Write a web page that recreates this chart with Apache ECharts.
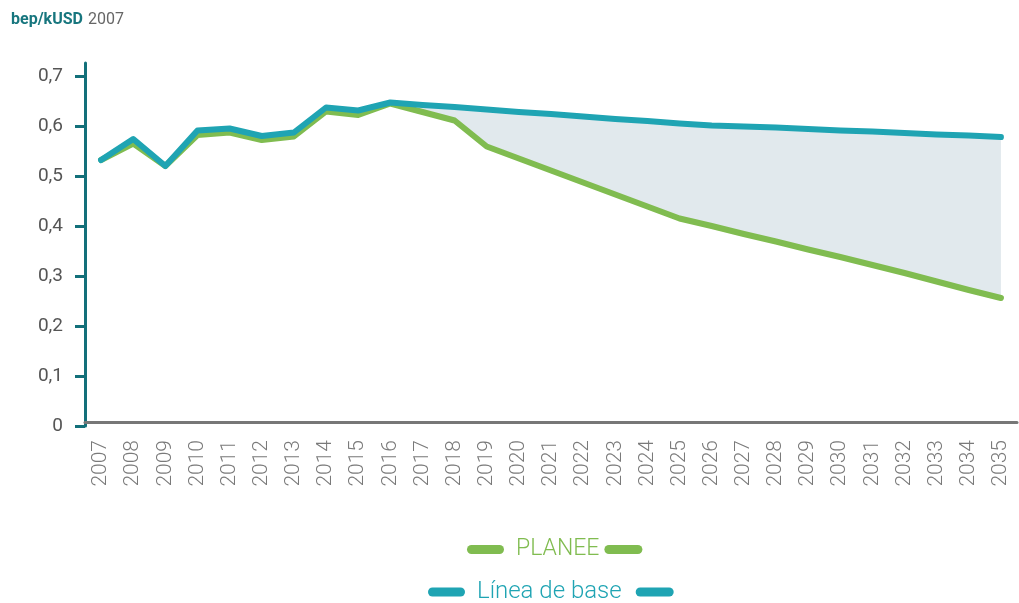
<!DOCTYPE html>
<html>
<head>
<meta charset="utf-8">
<script src="https://cdn.jsdelivr.net/npm/echarts@6/dist/echarts.min.js"></script>
<style>
    html, body { margin: 0; padding: 0; background: #fff; }
    #main { width: 1019px; height: 603px; }
</style>
</head>
<body>
<div id="main"></div>
<script>
var years = ['2007', '2008', '2009', '2010', '2011', '2012', '2013', '2014', '2015', '2016',
    '2017', '2018', '2019', '2020', '2021', '2022', '2023', '2024', '2025', '2026',
    '2027', '2028', '2029', '2030', '2031', '2032', '2033', '2034', '2035'];
// PLANEE
var planee = [0.532, 0.565, 0.520, 0.582, 0.587, 0.572, 0.579, 0.629, 0.622, 0.645,
    0.628, 0.611, 0.559, 0.535, 0.511, 0.487, 0.463, 0.439, 0.415, 0.400,
    0.384, 0.369, 0.353, 0.338, 0.322, 0.306, 0.289, 0.272, 0.256];
// Linea de base
var baseLine = [0.532, 0.574, 0.520, 0.591, 0.595, 0.580, 0.587, 0.637, 0.631, 0.647,
    0.642, 0.638, 0.633, 0.628, 0.624, 0.619, 0.614, 0.610, 0.605, 0.601,
    0.599, 0.597, 0.594, 0.591, 0.589, 0.586, 0.583, 0.581, 0.578];
var yTicks = [0, 0.1, 0.2, 0.3, 0.4, 0.5, 0.6, 0.7];
var bandStart = 9; // la zona sombreada empieza en 2016

var green = '#80bc50';
var teal = '#1fa4b3';

// zona entre las dos curvas (apilada)
var bandLow = [];
var bandDiff = [];
for (var i = 0; i < years.length; i++) {
    if (i < bandStart) {
        bandLow.push('-');
        bandDiff.push('-');
    } else {
        bandLow.push(planee[i]);
        bandDiff.push(+(baseLine[i] - planee[i]).toFixed(3));
    }
}

function legendCfg(name, color, left, top, fs, gapR) {
    return {
        data: [name],
        left: left,
        top: top,
        padding: 0,
        icon: 'path://M4.5,0 L32.5,0 A4.5,4.5 0 0 1 32.5,9 L4.5,9 A4.5,4.5 0 0 1 4.5,0 Z',
        itemWidth: 37,
        itemHeight: 9,
        selectedMode: false,
        formatter: function (n) {
            return '{s|}{t|' + n + '}{r|}{b|}';
        },
        textStyle: {
            rich: {
                s: { width: 7 },
                r: { width: gapR },
                t: { color: color, fontSize: fs, fontWeight: 300, fontFamily: 'Roboto' },
                b: { width: 38, height: 9, backgroundColor: color, borderRadius: 5, verticalAlign: 'middle' }
            }
        }
    };
}

var myChart = echarts.init(document.getElementById('main'));
var option = {
    animation: false,
    title: {
        text: '{a|bep/kUSD} {b|2007}',
        left: 6,
        top: 6,
        textStyle: {
            rich: {
                a: { fontWeight: 'bold', color: '#17767e', fontSize: 16, fontFamily: 'Roboto' },
                b: { fontWeight: 'normal', color: '#666', fontSize: 16, fontFamily: 'Roboto' }
            }
        }
    },
    legend: [
        legendCfg('PLANEE', green, 467, 538, 23, 5),
        legendCfg('Línea de base', teal, 428, 580, 24, 14)
    ],
    grid: {
        left: 85,
        right: 2,
        top: 63,
        bottom: 177,
        containLabel: false
    },
    xAxis: {
        type: 'category',
        data: years,
        boundaryGap: true,
        offset: -4,
        axisLine: { lineStyle: { color: '#777', width: 3 } },
        axisTick: { alignWithLabel: true, length: 8, lineStyle: { color: '#777', width: 2.5 } },
        axisLabel: {
            rotate: 90,
            margin: 18,
            color: '#7a7a7a',
            fontSize: 21,
            fontFamily: 'Roboto',
            fontWeight: 300,
            interval: 0
        }
    },
    yAxis: {
        type: 'value',
        min: 0,
        max: 0.726,
        splitLine: { show: false },
        axisLine: { show: true, lineStyle: { color: '#13707a', width: 3 } },
        axisTick: { show: true, length: 10, customValues: yTicks, lineStyle: { color: '#13707a', width: 3 } },
        axisLabel: {
            customValues: yTicks,
            margin: 22,
            color: '#555',
            fontSize: 19,
            fontFamily: 'Roboto',
            formatter: function (v) {
                return String(+v.toFixed(1)).replace('.', ',');
            }
        }
    },
    series: [
        {
            name: 'bandLow',
            type: 'line',
            stack: 'band',
            data: bandLow,
            symbol: 'none',
            silent: true,
            lineStyle: { opacity: 0 },
            z: 1
        },
        {
            name: 'bandDiff',
            type: 'line',
            stack: 'band',
            data: bandDiff,
            symbol: 'none',
            silent: true,
            lineStyle: { opacity: 0 },
            areaStyle: { color: '#e1e9ed', opacity: 1 },
            z: 1
        },
        {
            name: 'PLANEE',
            type: 'line',
            data: planee,
            symbol: 'none',
            color: green,
            lineStyle: { color: green, width: 6, cap: 'round', join: 'round' },
            z: 3
        },
        {
            name: 'Línea de base',
            type: 'line',
            data: baseLine,
            symbol: 'none',
            color: teal,
            lineStyle: { color: teal, width: 6, cap: 'round', join: 'round' },
            z: 4
        }
    ]
};
myChart.setOption(option);
</script>
</body>
</html>
